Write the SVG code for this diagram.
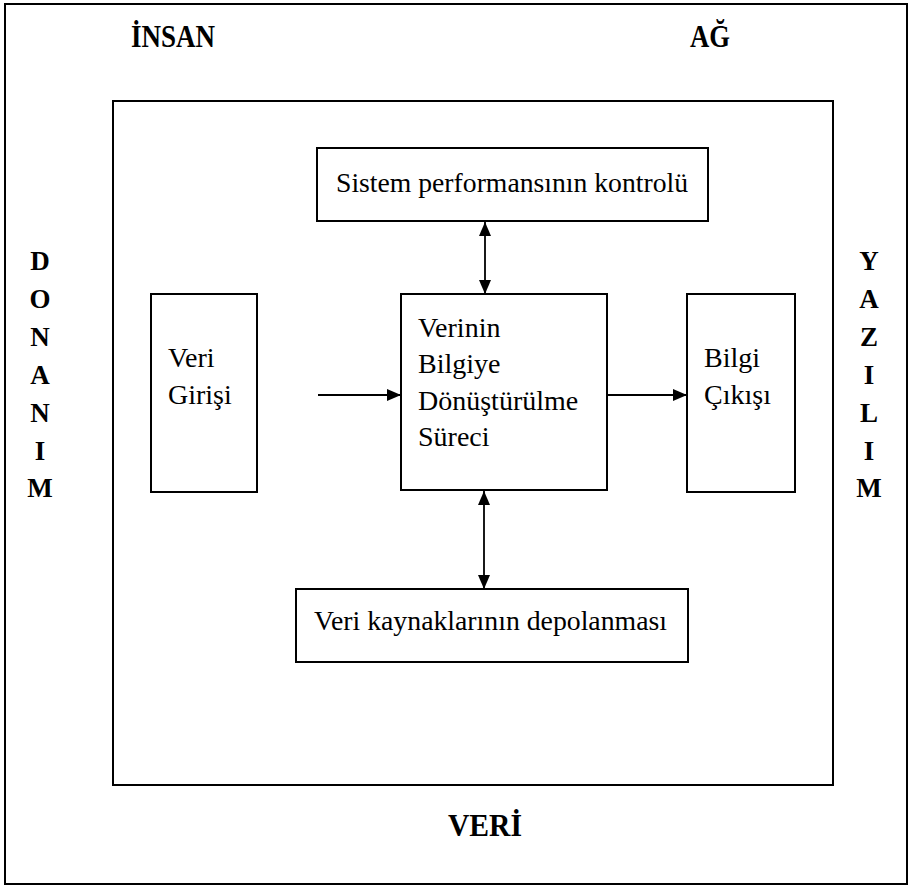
<svg xmlns="http://www.w3.org/2000/svg" width="908" height="886" viewBox="0 0 908 886">
<defs>
<style>
.box{fill:#fff;stroke:#000;stroke-width:2}
.t{font-family:"Liberation Serif","Times New Roman",serif;font-size:28px;fill:#000}
.b{font-family:"Liberation Serif","Times New Roman",serif;font-size:31px;font-weight:bold;fill:#000}
.v{font-family:"Liberation Serif","Times New Roman",serif;font-size:27px;font-weight:bold;fill:#000;text-anchor:middle}
.c{stroke:#000;stroke-width:1.8;fill:none}
</style>
<marker id="ah" viewBox="0 0 14 12" refX="14" refY="6" markerWidth="14" markerHeight="12" markerUnits="userSpaceOnUse" orient="auto-start-reverse">
<path d="M0,0 L14,6 L0,12 z" fill="#000"/>
</marker>
</defs>
<rect width="908" height="886" fill="#fff"/>
<g id="outer">
<rect x="5" y="4" width="902" height="880" fill="none" stroke="#000" stroke-width="2"/>
<text class="b" x="131" y="47" textLength="84" lengthAdjust="spacingAndGlyphs">İNSAN</text>
<text class="b" x="690" y="47" textLength="40" lengthAdjust="spacingAndGlyphs">AĞ</text>
<text class="b" x="448" y="836" textLength="74" lengthAdjust="spacingAndGlyphs">VERİ</text>
<g class="v">
<text x="40" y="270">D</text><text x="40" y="308">O</text><text x="40" y="346">N</text><text x="40" y="384">A</text><text x="40" y="422">N</text><text x="40" y="460">I</text><text x="40" y="497">M</text>
</g>
<g class="v">
<text x="869" y="270">Y</text><text x="869" y="308">A</text><text x="869" y="346">Z</text><text x="869" y="384">I</text><text x="869" y="422">L</text><text x="869" y="460">I</text><text x="869" y="497">M</text>
</g>
</g>
<g id="inner"><rect x="113" y="101" width="720" height="684" fill="none" stroke="#000" stroke-width="2"/></g>
<g id="kontrol"><rect class="box" x="317" y="148" width="391" height="73"/><text class="t" x="336" y="192" textLength="352" lengthAdjust="spacingAndGlyphs">Sistem performansının kontrolü</text></g>
<g id="giris"><rect class="box" x="151" y="294" width="106" height="198"/><text class="t" x="168" y="367">Veri</text><text class="t" x="168" y="404">Girişi</text></g>
<g id="surec"><rect class="box" x="401" y="294" width="206" height="196"/><text class="t" x="418" y="337">Verinin</text><text class="t" x="418" y="373">Bilgiye</text><text class="t" x="418" y="410">Dönüştürülme</text><text class="t" x="418" y="446">Süreci</text></g>
<g id="cikis"><rect class="box" x="687" y="294" width="108" height="198"/><text class="t" x="704" y="367">Bilgi</text><text class="t" x="704" y="404">Çıkışı</text></g>
<g id="depo"><rect class="box" x="296" y="589" width="392" height="73"/><text class="t" x="314" y="630" textLength="353" lengthAdjust="spacingAndGlyphs">Veri kaynaklarının depolanması</text></g>
<g id="connectors">
<line class="c" x1="485" y1="222" x2="485" y2="294" marker-start="url(#ah)" marker-end="url(#ah)"/>
<line class="c" x1="484" y1="491" x2="484" y2="589" marker-start="url(#ah)" marker-end="url(#ah)"/>
<line class="c" x1="318" y1="395" x2="401" y2="395" marker-end="url(#ah)"/>
<line class="c" x1="607" y1="395" x2="687" y2="395" marker-end="url(#ah)"/>
</g>
</svg>
